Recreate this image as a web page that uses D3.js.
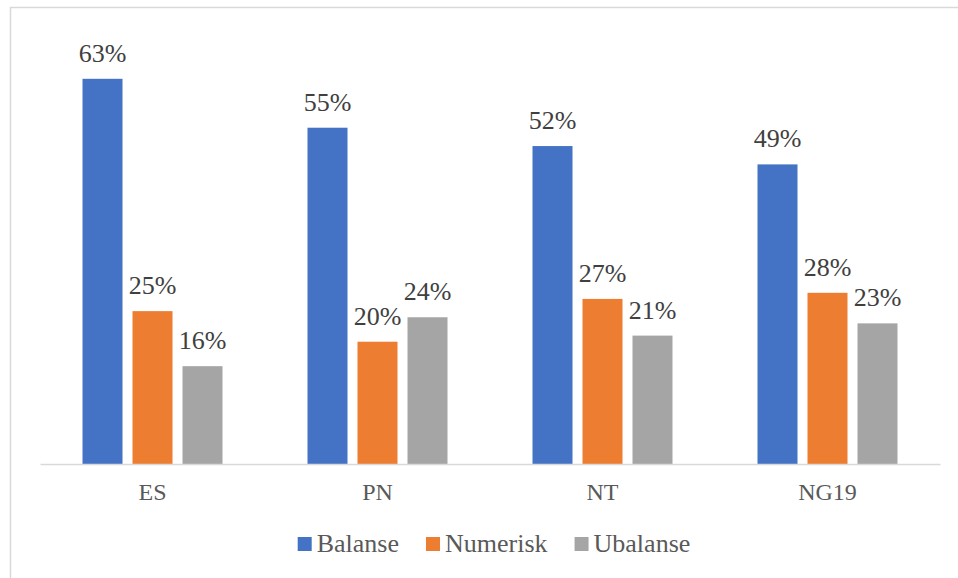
<!DOCTYPE html>
<html>
<head>
<meta charset="utf-8">
<script src="https://cdn.jsdelivr.net/npm/d3@7/dist/d3.min.js"></script>
<style>
  html, body { margin: 0; padding: 0; background: #fff; }
  svg { display: block; }
</style>
</head>
<body>
<svg id="chart" width="958" height="578"></svg>
<script>
// Chart data
const categories = ["ES", "PN", "NT", "NG19"];
const seriesNames = ["Balanse", "Numerisk", "Ubalanse"];
const balanse = [63, 55, 52, 49];
const numerisk = [25, 20, 27, 28];
const ubalanse = [16, 24, 21, 23];
const seriesValues = [balanse, numerisk, ubalanse];
const colors = ["#4472C4", "#ED7D31", "#A5A5A5"];

const FONT = "'Liberation Serif', 'Times New Roman', serif";

const svg = d3.select("#chart");

// Outer chart frame
svg.append("rect")
  .attr("x", 10.5).attr("y", 7.5)
  .attr("width", 960).attr("height", 600)
  .attr("fill", "none")
  .attr("stroke", "#d9d9d9")
  .attr("stroke-width", 1.5);

const plot = { left: 40, right: 940, top: 36, bottom: 464 };

const x = d3.scaleBand()
  .domain(categories)
  .range([plot.left, plot.right])
  .padding(0);

const y = d3.scaleLinear()
  .domain([0, 70])
  .range([plot.bottom, plot.top]);

const barWidth = 40;
const barStep = 50;
const inner = d3.scaleBand()
  .domain(seriesNames)
  .range([-barStep * 1.5, barStep * 1.5]);

// Bars and value labels
seriesNames.forEach((name, si) => {
  const g = svg.append("g").attr("class", "series");
  const rows = categories.map((c, ci) => ({ c, v: seriesValues[si][ci] }));
  const bx = d => x(d.c) + x.bandwidth() / 2 + inner(name) + (barStep - barWidth) / 2;

  g.selectAll("rect")
    .data(rows)
    .join("rect")
    .attr("x", bx)
    .attr("y", d => y(d.v))
    .attr("width", barWidth)
    .attr("height", d => y(0) - y(d.v))
    .attr("fill", colors[si]);

  g.selectAll("text")
    .data(rows)
    .join("text")
    .attr("x", d => bx(d) + barWidth / 2)
    .attr("y", d => y(d.v) - 17)
    .attr("text-anchor", "middle")
    .style("font-family", FONT)
    .style("font-size", "26px")
    .attr("fill", "#404040")
    .text(d => d.v + "%");
});

// Category axis
const xAxis = svg.append("g")
  .attr("transform", `translate(0,${plot.bottom})`)
  .call(d3.axisBottom(x).tickSize(0).tickPadding(0));
xAxis.select(".domain")
  .attr("stroke", "#d9d9d9")
  .attr("stroke-width", 1.5);
xAxis.selectAll(".tick text")
  .attr("dy", null)
  .attr("y", 36)
  .style("font-family", FONT)
  .style("font-size", "24px")
  .attr("fill", "#595959");

// Legend
const legend = svg.append("g").attr("class", "legend");
const items = legend.selectAll("g")
  .data(seriesNames)
  .join("g");
items.append("rect")
  .attr("width", 14).attr("height", 14)
  .attr("y", -15)
  .attr("fill", (d, i) => colors[i]);
items.append("text")
  .attr("x", 19)
  .style("font-family", FONT)
  .style("font-size", "26px")
  .attr("fill", "#595959")
  .text(d => d);

let offset = 0;
const widths = [];
items.each(function () {
  widths.push(d3.select(this).select("text").node().getComputedTextLength() + 19);
});
const gapBetween = 27;
const total = d3.sum(widths) + gapBetween * (widths.length - 1);
const startX = 494 - total / 2;
items.attr("transform", (d, i) => {
  const t = `translate(${startX + offset},552)`;
  offset += widths[i] + gapBetween;
  return t;
});
</script>
</body>
</html>
